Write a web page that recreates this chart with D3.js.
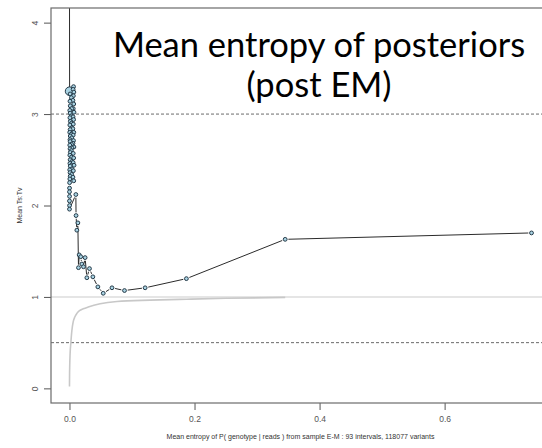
<!DOCTYPE html>
<html>
<head>
<meta charset="utf-8">
<script src="https://cdn.jsdelivr.net/npm/d3@7"></script>
<style>
  body { margin: 0; background: #fff; }
  svg { display: block; }
</style>
</head>
<body>
<svg id="EntropyChart"></svg>
<script>
// Mean entropy per interval (x), mean Ts:Tv (y), relative weight (w)
// first point is above the plot top, so only its line shows
let clusterPoints = [
    [0.0000, 4.60, 1],
    [0.0002, 3.25, 5],
    [0.0065, 3.30, 1], [0.0058, 3.27, 1], [0.0070, 3.24, 1], [0.0010, 3.22, 1],
    [0.0062, 3.20, 1], [0.0030, 3.18, 1], [0.0055, 3.15, 1], [0.0008, 3.14, 1],
    [0.0068, 3.11, 1], [0.0012, 3.09, 1], [0.0060, 3.06, 1], [0.0035, 3.06, 1],
    [0.0005, 3.04, 1], [0.0072, 3.02, 1], [0.0011, 3.01, 1], [0.0028, 2.98, 1],
    [0.0057, 2.97, 1], [0.0007, 2.96, 1], [0.0066, 2.94, 1], [0.0013, 2.92, 1],
    [0.0033, 2.90, 1], [0.0061, 2.89, 1], [0.0006, 2.88, 1], [0.0038, 2.85, 1],
    [0.0054, 2.84, 1], [0.0010, 2.83, 1], [0.0004, 2.80, 1], [0.0069, 2.80, 1],
    [0.0030, 2.78, 1], [0.0059, 2.77, 1], [0.0012, 2.76, 1], [0.0036, 2.74, 1],
    [0.0008, 2.72, 1], [0.0064, 2.71, 1], [0.0011, 2.70, 1], [0.0056, 2.68, 1],
    [0.0032, 2.67, 1], [0.0005, 2.66, 1], [0.0071, 2.64, 1], [0.0039, 2.63, 1],
    [0.0009, 2.62, 1], [0.0029, 2.60, 1], [0.0013, 2.58, 1], [0.0060, 2.57, 1],
    [0.0006, 2.55, 1], [0.0034, 2.53, 1], [0.0067, 2.52, 1], [0.0010, 2.50, 1],
    [0.0037, 2.48, 1], [0.0058, 2.47, 1], [0.0007, 2.46, 1], [0.0031, 2.44, 1],
    [0.0073, 2.44, 1], [0.0012, 2.43, 1], [0.0040, 2.40, 1], [0.0004, 2.39, 1],
    [0.0062, 2.38, 1], [0.0009, 2.36, 1], [0.0035, 2.34, 1], [0.0011, 2.32, 1],
    [0.0055, 2.31, 1], [0.0006, 2.29, 1], [0.0068, 2.27, 1], [0.0002, 2.25, 1],
    [0.0001, 2.19, 1], [0.0000, 2.15, 1], [0.0001, 2.10, 1], [0.0000, 2.05, 1],
    [0.0001, 2.00, 1], [0.0000, 1.96, 1]
];

let tailPoints = [
    [0.0102, 2.12, 1], [0.0105, 1.89, 1], [0.0118, 1.73, 1], [0.0134, 1.81, 1],
    [0.0144, 1.32, 1], [0.0155, 1.46, 1], [0.0180, 1.44, 1], [0.0198, 1.36, 1],
    [0.0224, 1.33, 1], [0.0250, 1.43, 1], [0.0278, 1.21, 1], [0.0320, 1.31, 1],
    [0.0374, 1.22, 1], [0.0454, 1.11, 1], [0.0540, 1.04, 1], [0.0680, 1.10, 1],
    [0.0880, 1.07, 1], [0.1210, 1.10, 1], [0.1870, 1.20, 1], [0.3450, 1.63, 1],
    [0.7390, 1.70, 1]
];

// the grey reference curve underneath
let greyCurveX = [0.0, 0.0001, 0.0004, 0.0010, 0.0022, 0.0038, 0.0060, 0.0085, 0.0118, 0.0160,
                  0.0220, 0.0300, 0.0490, 0.0760, 0.1290, 0.1870, 0.2500, 0.3450];
let greyCurveY = [0.02, 0.12, 0.25, 0.38, 0.50, 0.63, 0.73, 0.78, 0.82, 0.85,
                  0.87, 0.89, 0.925, 0.95, 0.965, 0.975, 0.985, 0.995];

let xTicks = [0, 0.2, 0.4, 0.6];
let xTickLabels = ["0.0", "0.2", "0.4", "0.6"];
let yTicks = [0, 1, 2, 3, 4];
let yTickLabels = ["0", "1", "2", "3", "4"];
let dashedLevels = [3, 0.5];
let greyLevel = 1;

let titleLines = ["Mean entropy of posteriors", "(post EM)"];
let xTitle = "Mean entropy of P( genotype | reads ) from sample E-M :  93 intervals, 118077 variants";
let yTitle = "Mean Ts:Tv";

function getChartConfig() {
    let width = 542;
    let height = 448;
    // plot box, right edge runs past the picture like in the original
    let margin = { top: 8, left: 51, bottom: 45, right: -8 };
    let bodyWidth = width - margin.left - margin.right;
    let bodyHeight = height - margin.top - margin.bottom;
    let container = d3.select("#EntropyChart")
        .attr("width", width)
        .attr("height", height);
    return { width, height, margin, bodyWidth, bodyHeight, container };
}

function getChartScales(config) {
    let { margin, bodyWidth, bodyHeight } = config;
    // R style 4% padding around the data range
    let xMax = 0.739, yMin = 0, yMax = 4;
    let xPad = 0.04 * xMax, yPad = 0.04 * (yMax - yMin);
    let xScale = d3.scaleLinear()
        .domain([-xPad, xMax + xPad])
        .range([margin.left, margin.left + bodyWidth]);
    let yScale = d3.scaleLinear()
        .domain([yMin - yPad, yMax + yPad])
        .range([margin.top + bodyHeight, margin.top]);
    let rScale = d3.scaleSqrt().domain([1, 5]).range([1.9, 4.3]);
    return { xScale, yScale, rScale };
}

function drawReferenceLines(scales, config) {
    let { xScale, yScale } = scales;
    let { container } = config;
    let [x0, x1] = xScale.range();
    let body = container.append("g").attr("clip-path", "url(#plotClip)");

    body.append("line")
        .attr("x1", x0).attr("x2", x1)
        .attr("y1", yScale(greyLevel)).attr("y2", yScale(greyLevel))
        .attr("stroke", "#dcdcdc")
        .attr("stroke-width", 1.6);

    body.selectAll(".dash")
        .data(dashedLevels)
        .enter().append("line")
        .attr("x1", x0).attr("x2", x1)
        .attr("y1", d => yScale(d)).attr("y2", d => yScale(d))
        .attr("stroke", "#444")
        .attr("stroke-width", 0.8)
        .attr("stroke-dasharray", "3,2");

    let curve = d3.line()
        .x((d, i) => xScale(greyCurveX[i]))
        .y(d => yScale(d))
        .curve(d3.curveMonotoneX);
    body.append("path")
        .datum(greyCurveY)
        .attr("d", curve)
        .attr("fill", "none")
        .attr("stroke", "#c8c8c8")
        .attr("stroke-width", 1.6);
}

function drawPointsAndLines(scales, config) {
    let { xScale, yScale, rScale } = scales;
    let { container } = config;
    let points = clusterPoints.concat(tailPoints);
    let body = container.append("g").attr("clip-path", "url(#plotClip)");

    // type = "b": line pieces stop short of each point
    let gap = 3.2;
    let segments = [];
    for (let i = 1; i < points.length; i++) {
        let ax = xScale(points[i - 1][0]), ay = yScale(points[i - 1][1]);
        let bx = xScale(points[i][0]), by = yScale(points[i][1]);
        let len = Math.hypot(bx - ax, by - ay);
        if (len <= 2 * gap) continue;
        let ux = (bx - ax) / len, uy = (by - ay) / len;
        segments.push([ax + ux * gap, ay + uy * gap, bx - ux * gap, by - uy * gap]);
    }
    body.selectAll(".seg")
        .data(segments)
        .enter().append("line")
        .attr("x1", d => d[0]).attr("y1", d => d[1])
        .attr("x2", d => d[2]).attr("y2", d => d[3])
        .attr("stroke", "#2b2b2b")
        .attr("stroke-width", 1);

    body.selectAll(".pt")
        .data(points)
        .enter().append("circle")
        .attr("cx", d => xScale(d[0]))
        .attr("cy", d => yScale(d[1]))
        .attr("r", d => rScale(d[2]))
        .attr("fill", "#a9d3e3")
        .attr("stroke", "#253a48")
        .attr("stroke-width", 1);
}

function drawAxes(scales, config) {
    let { xScale, yScale } = scales;
    let { container, margin, bodyHeight } = config;
    let bottom = margin.top + bodyHeight;

    let axisX = d3.axisBottom(xScale)
        .tickValues(xTicks)
        .tickFormat((d, i) => xTickLabels[i])
        .tickSizeOuter(0)
        .tickSize(7)
        .tickPadding(6);
    let gx = container.append("g")
        .attr("transform", "translate(0," + bottom + ")")
        .call(axisX);
    gx.select(".domain").remove();

    let axisY = d3.axisLeft(yScale)
        .tickValues(yTicks)
        .tickFormat((d, i) => yTickLabels[i])
        .tickSizeOuter(0)
        .tickSize(7);
    let gy = container.append("g")
        .attr("transform", "translate(" + margin.left + ",0)")
        .call(axisY);
    gy.select(".domain").remove();
    gy.selectAll(".tick text")
        .attr("x", 0).attr("dy", null)
        .attr("text-anchor", "middle")
        .attr("transform", "translate(-13,0) rotate(-90)");

    container.selectAll(".tick line").attr("stroke", "#555");
    container.selectAll(".tick text")
        .attr("fill", "#555")
        .style("font-family", "Liberation Sans, Arial, sans-serif")
        .style("font-size", "8.5px");

    // plot box
    let [x0, x1] = xScale.range();
    container.append("rect")
        .attr("x", x0).attr("y", margin.top)
        .attr("width", x1 - x0).attr("height", bodyHeight)
        .attr("fill", "none")
        .attr("stroke", "#6b6b6b")
        .attr("stroke-width", 1.2);
}

function drawTexts(scales, config) {
    let { container, margin, bodyHeight } = config;
    let { xScale } = scales;
    let [x0, x1] = xScale.range();

    container.append("text")
        .attr("x", (x0 + x1) / 2)
        .attr("y", 439)
        .attr("text-anchor", "middle")
        .attr("fill", "#333")
        .style("font-family", "Liberation Sans, Arial, sans-serif")
        .style("font-size", "7px")
        .text(xTitle);

    container.append("text")
        .attr("transform", "translate(22," + (margin.top + bodyHeight / 2) + ") rotate(-90)")
        .attr("text-anchor", "middle")
        .attr("fill", "#333")
        .style("font-family", "Liberation Sans, Arial, sans-serif")
        .style("font-size", "7px")
        .text(yTitle);

    container.selectAll(".title")
        .data(titleLines)
        .enter().append("text")
        .attr("x", 319)
        .attr("y", (d, i) => 57 + i * 40)
        .attr("text-anchor", "middle")
        .attr("fill", "#000")
        .style("font-family", "Lato, 'Open Sans', sans-serif")
        .style("font-size", "34.5px")
        .text(d => d);
}

function drawChart() {
    let config = getChartConfig();
    let scales = getChartScales(config);
    let [x0, x1] = scales.xScale.range();
    config.container.append("defs").append("clipPath")
        .attr("id", "plotClip")
        .append("rect")
        .attr("x", x0).attr("y", config.margin.top)
        .attr("width", x1 - x0).attr("height", config.bodyHeight);
    drawReferenceLines(scales, config);
    drawPointsAndLines(scales, config);
    drawAxes(scales, config);
    drawTexts(scales, config);
}

drawChart();
</script>
</body>
</html>
